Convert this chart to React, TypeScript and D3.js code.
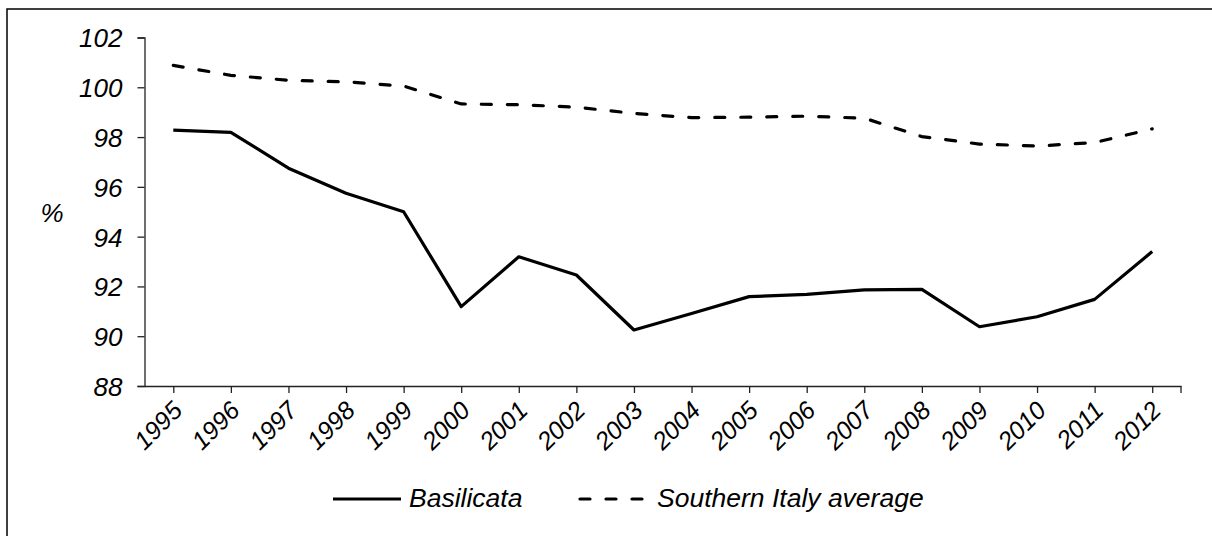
import React, { useEffect, useRef } from "react";
import * as d3 from "d3";

const years = [
  "1995", "1996", "1997", "1998", "1999", "2000", "2001", "2002", "2003",
  "2004", "2005", "2006", "2007", "2008", "2009", "2010", "2011", "2012",
];
const basilicata = [
  98.28, 98.19, 96.75, 95.74, 95.0, 91.19, 93.19, 92.46, 90.25,
  90.91, 91.59, 91.68, 91.86, 91.88, 90.38, 90.78, 91.48, 93.4,
];
const southernItaly = [
  100.88, 100.48, 100.28, 100.22, 100.05, 99.33, 99.3, 99.2, 98.95,
  98.78, 98.8, 98.84, 98.76, 98.02, 97.72, 97.64, 97.78, 98.33,
];
const yTicks = [88, 90, 92, 94, 96, 98, 100, 102];

const W = 1212;
const H = 536;
const font = "'Liberation Sans', Arial, sans-serif";

export default function App() {
  const ref = useRef<SVGSVGElement>(null);

  useEffect(() => {
    const svg = d3.select(ref.current);
    svg.selectAll("*").remove();

    // outer frame (only top and left edges are in view)
    svg.append("rect")
      .attr("x", 7).attr("y", 9)
      .attr("width", W + 20).attr("height", H + 20)
      .attr("fill", "none").attr("stroke", "#000").attr("stroke-width", 1.5);

    const left = 144.5, right = 1181, top = 37.5, bottom = 386;

    const x = d3.scalePoint<string>().domain(years).range([left, right]).padding(0.5);
    const y = d3.scaleLinear().domain([88, 102]).range([bottom, top]);

    // y axis
    const yAxis = svg.append("g").attr("transform", `translate(${left},0)`)
      .call(d3.axisLeft(y).tickValues(yTicks).tickSize(7).tickPadding(15).tickFormat(d3.format("d")));
    yAxis.select(".domain").attr("stroke", "#222").attr("stroke-width", 1.3);
    yAxis.selectAll(".tick line").attr("stroke", "#222").attr("stroke-width", 1.3);
    yAxis.selectAll(".tick text")
      .attr("font-family", font).attr("font-size", 26).attr("font-style", "italic")
      .attr("fill", "#000").attr("dy", "0.36em");

    // x axis
    const xAxis = svg.append("g").attr("transform", `translate(0,${bottom})`)
      .call(d3.axisBottom(x).tickSize(7).tickSizeOuter(0));
    xAxis.select(".domain").attr("stroke", "#222").attr("stroke-width", 1.3);
    xAxis.selectAll(".tick line").attr("stroke", "#222").attr("stroke-width", 1.3);
    xAxis.append("line")
      .attr("x1", right).attr("x2", right).attr("y1", 0).attr("y2", 7)
      .attr("stroke", "#222").attr("stroke-width", 1.3);
    xAxis.selectAll(".tick text")
      .attr("font-family", font).attr("font-size", 25).attr("font-style", "italic")
      .attr("fill", "#000")
      .attr("text-anchor", "end")
      .attr("x", 0).attr("y", 0).attr("dy", 0)
      .attr("transform", "translate(10,26) rotate(-45)");

    // % label
    svg.append("text")
      .attr("x", 52).attr("y", 222)
      .attr("text-anchor", "middle")
      .attr("font-family", font).attr("font-size", 26).attr("font-style", "italic")
      .text("%");

    const line = d3.line<number>()
      .x((_, i) => x(years[i]) as number)
      .y((d) => y(d));

    svg.append("path").datum(southernItaly)
      .attr("d", line)
      .attr("fill", "none").attr("stroke", "#000").attr("stroke-width", 3.2)
      .attr("stroke-dasharray", "10,16").attr("stroke-linecap", "round");

    svg.append("path").datum(basilicata)
      .attr("d", line)
      .attr("fill", "none").attr("stroke", "#000").attr("stroke-width", 3.2)
      .attr("stroke-linejoin", "round");

    // legend
    const legend = [
      { label: "Basilicata", x1: 333, x2: 401, tx: 409, dash: null },
      { label: "Southern Italy average", x1: 580, x2: 648, tx: 657, dash: "10,16" },
    ];
    const lg = svg.append("g");
    legend.forEach((l) => {
      lg.append("line")
        .attr("x1", l.x1).attr("x2", l.x2).attr("y1", 499).attr("y2", 499)
        .attr("stroke", "#000").attr("stroke-width", 3.2)
        .attr("stroke-dasharray", l.dash).attr("stroke-linecap", l.dash ? "round" : "butt");
      lg.append("text")
        .attr("x", l.tx).attr("y", 507)
        .attr("font-family", font).attr("font-size", 26.5).attr("font-style", "italic")
        .text(l.label);
    });
  }, []);

  return (
    <svg
      ref={ref}
      width={W}
      height={H}
      style={{ position: "absolute", left: 0, top: 0, background: "#fff" }}
    />
  );
}
